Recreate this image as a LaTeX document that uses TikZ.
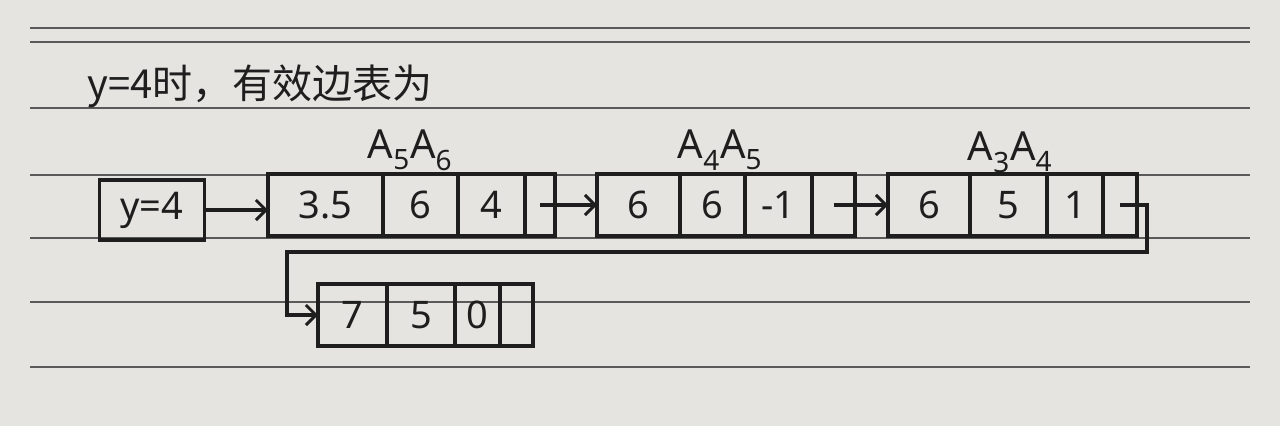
\documentclass[tikz,border=0pt]{standalone}
\usepackage{fontspec}
\setmainfont{Noto Sans}
\newfontfamily\cjk{Noto Sans CJK SC}
\usetikzlibrary{arrows.meta, positioning}
\definecolor{paper}{HTML}{E6E4E1}
\definecolor{rulegray}{HTML}{5A5A5A}
\definecolor{ink}{HTML}{1E1E1E}
\tikzset{
  cell/.style={draw=ink, line width=3.6pt, minimum height=62pt, inner sep=0pt, outer sep=0pt,
    font=\fontsize{38}{44}\selectfont, text=ink},
  head/.style={cell, minimum width=105pt, minimum height=60pt},
  link/.style={draw=ink, line width=3.4pt, -{Straight Barb[length=10pt, width=20pt, line width=3pt]}},
  tag/.style={font=\fontsize{40}{46}\selectfont, text=ink},
}

\begin{document}
\begin{tikzpicture}[x=1pt, y=-1pt]
        \useasboundingbox[fill=paper] (0,0) rectangle (1280,426);
        % notebook rules
        \foreach \ry in {28, 42, 108, 175, 238, 302, 367}{
            \draw[rulegray, line width=1.8pt] (30,\ry) -- (1250,\ry);
          }
        \node[font=\cjk\fontsize{40}{46}\selectfont, anchor=west, text=ink] (title) at (84,86) {y=4时，有效边表为};
        \node[head] (ycur) at (152,210) {y=4};
        % edge A5A6
        \foreach \val/\xa/\xb [count=\i] in {3.5/268/383, 6/383/458, 4/458/525, {}/525/555}{
            \node[cell, minimum width={\xb-\xa}] (ea\i) at ({(\xa+\xb)/2},205) {\val};
          }
        % edge A4A5
        \foreach \val/\xa/\xb [count=\i] in {6/597/680, 6/680/745, -1/745/812, {}/812/855}{
            \node[cell, minimum width={\xb-\xa}] (eb\i) at ({(\xa+\xb)/2},205) {\val};
          }
        % edge A3A4
        \foreach \val/\xa/\xb [count=\i] in {6/888/970, 5/970/1047, 1/1047/1103, {}/1103/1137}{
            \node[cell, minimum width={\xb-\xa}] (ec\i) at ({(\xa+\xb)/2},205) {\val};
          }
        % last edge, second row
        \foreach \val/\xa/\xb [count=\i] in {7/318/387, 5/387/455, 0/455/500, {}/500/533}{
            \node[cell, minimum width={\xb-\xa}] (ed\i) at ({(\xa+\xb)/2},315) {\val};
          }
        \node[tag] (la) at (410,150) {A\textsubscript{5}A\textsubscript{6}};
        \node[tag] (lb) at (720,150) {A\textsubscript{4}A\textsubscript{5}};
        \node[tag] (lc) at (1010,152) {A\textsubscript{3}A\textsubscript{4}};
        \draw[link] (ycur.east) -- (ycur.east -| ea1.west);
        \draw[link] (ea4.center) -- (eb1);
        \draw[link] (eb4.center) -- (ec1);
        \coordinate (bendR) at (1147,252);
        \coordinate (bendL) at (287,252);
        \draw[link] (ec4.center) -| (bendR) -- (bendL) |- (ed1.west);
      \end{tikzpicture}
\end{document}
